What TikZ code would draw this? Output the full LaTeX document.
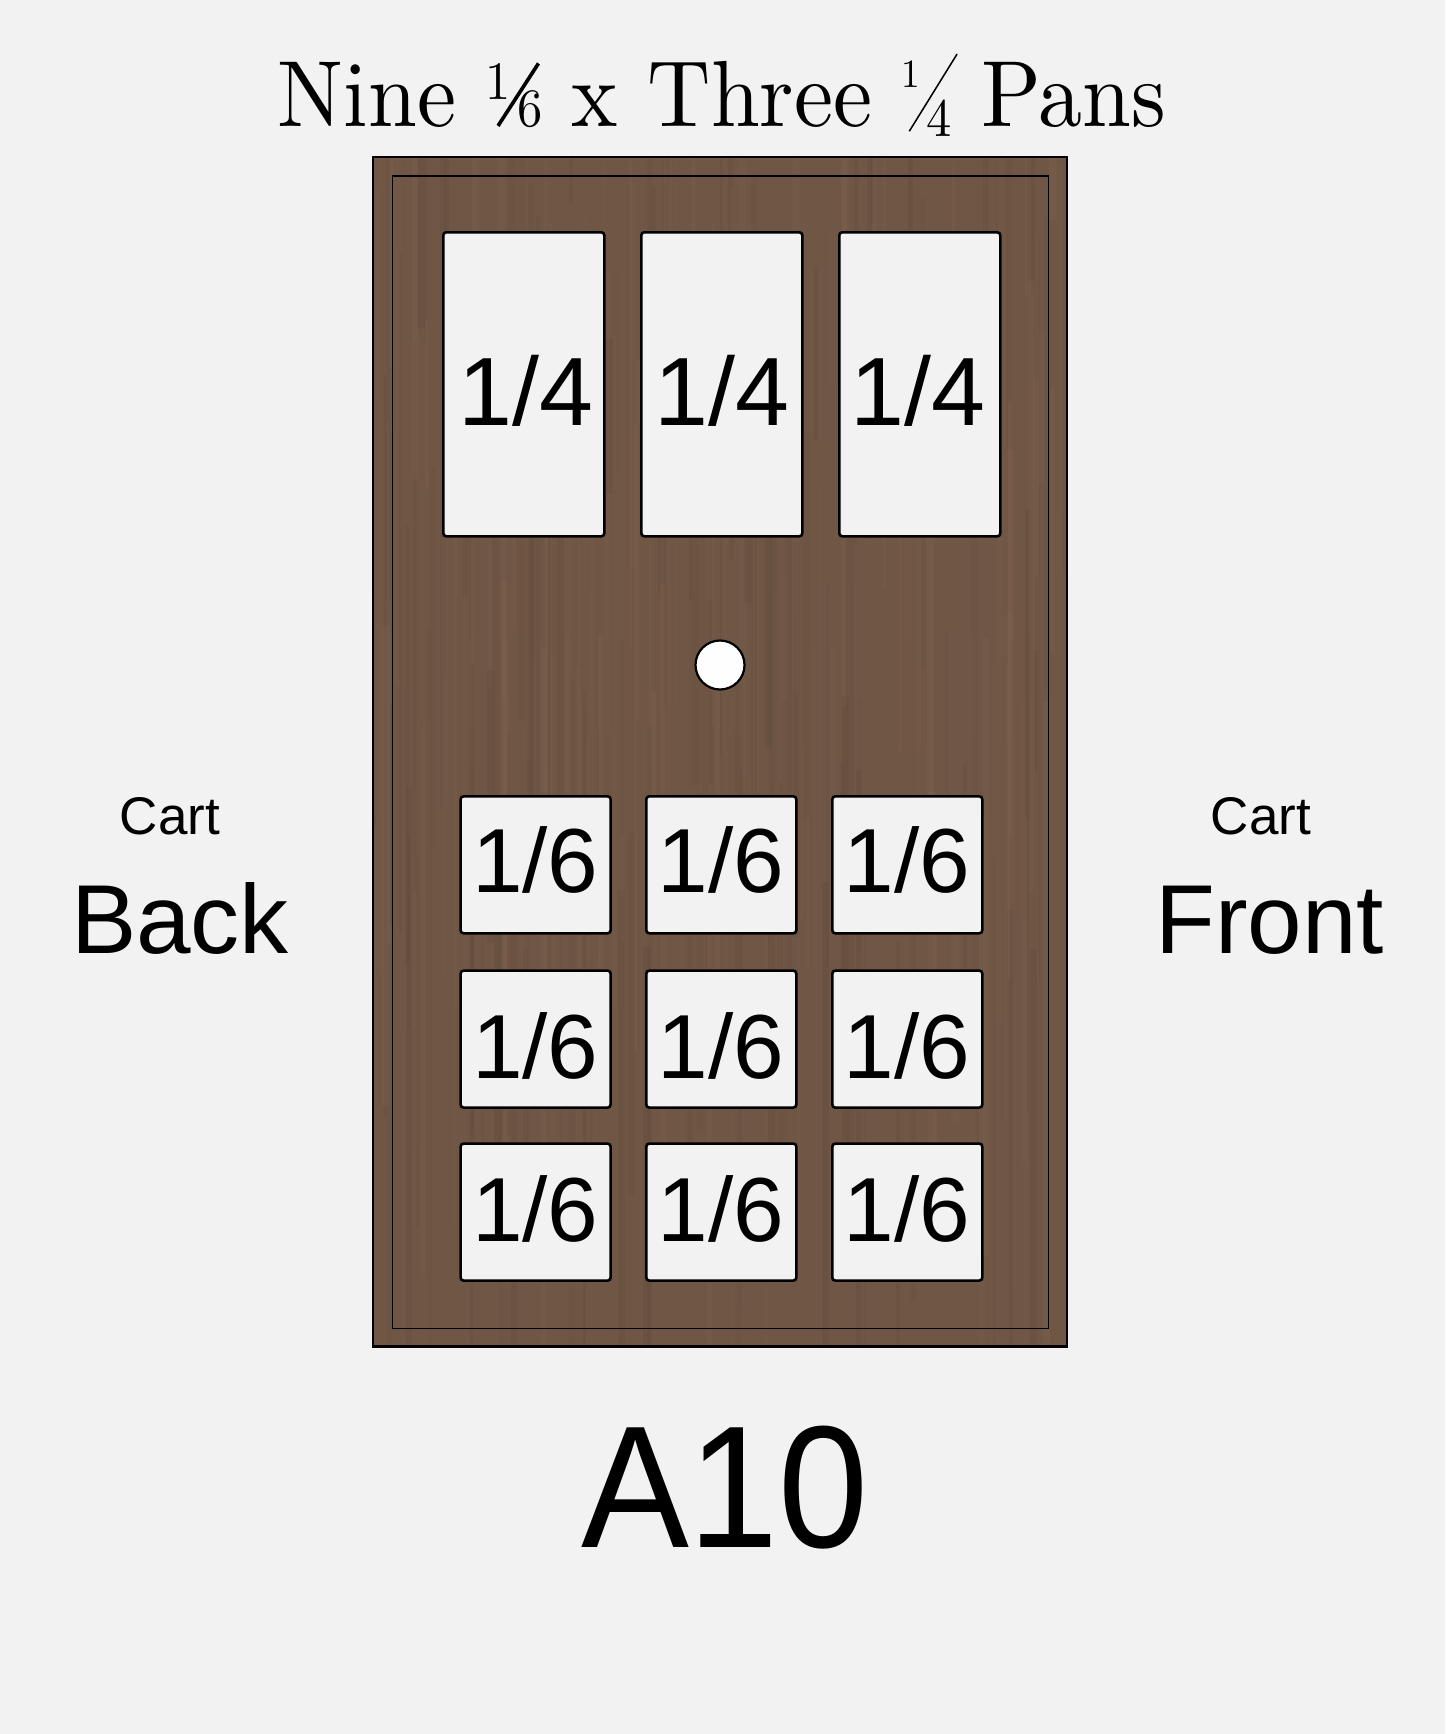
\documentclass[tikz,border=0pt]{standalone}
\usepackage{fontspec}
\usepackage{graphicx}
\usetikzlibrary{calc}
\newfontfamily\sans{Liberation Sans}
\newfontfamily\titlefont{lmroman10-regular.otf}
\definecolor{bg}{HTML}{F2F2F2}
\definecolor{wood}{HTML}{6F5645}
\definecolor{woodlight}{HTML}{8C6D57}
\definecolor{wooddark}{HTML}{584334}
\newcommand\fracsixth{{\fontsize{54}{54}\selectfont\raisebox{27pt}{1}}\kern-15pt\rotatebox{55.3}{\rule{76pt}{3.8pt}}\kern-24pt{\fontsize{54}{54}\selectfont 6}}
\newcommand\fracquarter{{\fontsize{40}{40}\selectfont\raisebox{39.3pt}{1}}\kern-12.6pt\raisebox{-4.7pt}{\rotatebox{56.5}{\rule{92.6pt}{1.6pt}}}\kern-33pt{\fontsize{54}{54}\selectfont\raisebox{-9.7pt}{4}}}
\tikzset{
  pan/.style={draw=black, line width=2.6pt, fill=bg, rounded corners=3pt},
  lbl/.style={font=\sans\fontsize{#1}{#1}\selectfont, anchor=base, inner sep=0pt},
  board/.style={draw=black, line width=2.6pt, fill=wood},
}
\begin{document}
\begin{tikzpicture}[x=1pt,y=-1pt]
\fill[bg] (0,0) rectangle (1445,1734);
\useasboundingbox (0,0) rectangle (1445,1734);
% board
\node[board, minimum width=694pt, minimum height=1190pt, inner sep=0pt] (board) at (719.8,751.8) {};
\begin{scope}
\clip (373,157) rectangle (1067,1346.6);
\pgfmathsetseed{11}
\foreach \i in {1,...,260}{
  \pgfmathsetmacro{\xx}{373+694*rnd}
  \pgfmathsetmacro{\ww}{1+7*rnd}
  \pgfmathsetmacro{\op}{0.05+0.15*rnd}
  \pgfmathsetmacro{\yy}{157+1000*rnd-200}
  \pgfmathsetmacro{\hh}{150+600*rnd}
  \ifodd\i
    \fill[woodlight, opacity=\op] (\xx,\yy) rectangle ++(\ww,\hh);
  \else
    \fill[wooddark, opacity=\op] (\xx,\yy) rectangle ++(\ww,\hh);
  \fi
}
\end{scope}
\draw[black, line width=2.6pt] (373,157) rectangle (1067,1346.6);
\draw[black, line width=1.6pt] (392.3,176) rectangle (1048.3,1328.3);
% quarter pans
\foreach \n/\x/\lx in {1/442/526, 2/640/722, 3/838/918}{
  \node[pan, minimum width=161pt, minimum height=304pt, inner sep=0pt, anchor=north west] (q\n) at (\x,231) {};
  \node[lbl=97] (ql\n) at (\lx,425.7) {1/4};
}
% sixth pans
\foreach \r/\y/\b in {1/795/892, 2/969.3/1078, 3/1142.3/1241.7}{
  \foreach \c/\x in {1/459.3, 2/645, 3/831}{
    \node[pan, minimum width=150pt, minimum height=137pt, inner sep=0pt, anchor=north west] (s\r\c) at (\x,\y) {};
    \node[lbl=91] (sl\r\c) at ($(\x,\b)+(76,0)$) {1/6};
  }
}
% hole
\node[circle, draw=black, line width=2.2pt, fill=white!96!bg, minimum size=49pt, inner sep=0pt] (hole) at (720,665) {};
% side labels
\node[lbl=53] (cartl) at (170,834) {Cart};
\node[lbl=98] (back) at (180,953.3) {Back};
\node[lbl=53] (cartr) at (1261,834) {Cart};
\node[lbl=98] (front) at (1269.7,953.3) {Front};
\node[lbl=174, xscale=0.93] (a10) at (725,1547) {A10};
% title
\node[anchor=base, inner sep=0pt, xscale=0.935, font=\titlefont\fontsize{94}{94}\selectfont] (title) at (722,127) {Nine \fracsixth{} x Three \fracquarter{} Pans};
\end{tikzpicture}
\end{document}
